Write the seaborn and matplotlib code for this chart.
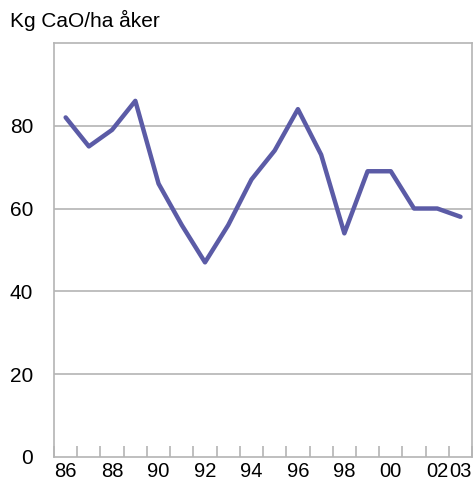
#!/usr/bin/env python3

import matplotlib
matplotlib.use("Agg")
import matplotlib.pyplot as plt
import numpy as np
import pandas as pd
import seaborn as sns

years = ["86", "87", "88", "89", "90", "91", "92", "93", "94",
         "95", "96", "97", "98", "99", "00", "01", "02", "03"]
kg_cao = [82, 75, 79, 86, 66, 56, 47, 56, 67,
          74, 84, 73, 54, 69, 69, 60, 60, 58]
shown_labels = ["86", "88", "90", "92", "94", "96", "98", "00", "02", "03"]
y_ticks = [0, 20, 40, 60, 80]


def main():
    sns.set_theme(style="white")
    plt.rcParams["font.family"] = ["Liberation Sans", "DejaVu Sans"]
    plt.rcParams["text.color"] = "black"
    plt.rcParams["xtick.labelcolor"] = "black"
    plt.rcParams["ytick.labelcolor"] = "black"

    df = pd.DataFrame({"pos": np.arange(len(years)), "value": kg_cao})

    fig, ax = plt.subplots(figsize=(4.74, 4.82), dpi=100)
    fig.subplots_adjust(left=0.114, right=0.996, top=0.911, bottom=0.052)

    sns.lineplot(data=df, x="pos", y="value", ax=ax,
                 color="#5b5ba6", linewidth=3.2)

    ax.set_xlim(-0.5, len(years) - 0.5)
    ax.set_ylim(0, 100)

    grid_color = "#b4b4b4"
    for y in y_ticks[1:]:
        ax.axhline(y, color=grid_color, linewidth=1.2, zorder=0)
    for side in ["left", "right", "top", "bottom"]:
        ax.spines[side].set_visible(True)
        ax.spines[side].set_color(grid_color)
        ax.spines[side].set_linewidth(1.2)

    ax.set_yticks(y_ticks)
    ax.set_yticklabels([str(v) for v in y_ticks], fontsize=15)
    ax.tick_params(axis="y", length=0, pad=15)

    # labels at category centres, tick marks at category edges
    ax.set_xticks([years.index(lab) for lab in shown_labels])
    ax.set_xticklabels(shown_labels, fontsize=14.5)
    ax.tick_params(axis="x", which="major", length=0, pad=4)
    ax.set_xticks(np.arange(len(years) + 1) - 0.5, minor=True)
    ax.tick_params(axis="x", which="minor", direction="in", length=8,
                   width=1.2, color=grid_color, bottom=True)

    ax.set_xlabel("")
    ax.set_ylabel("")
    fig.text(0.021, 0.957, "Kg CaO/ha åker", fontsize=15,
             ha="left", va="center")

    fig.savefig("out.png", dpi=100)


if __name__ == '__main__':
    main()
